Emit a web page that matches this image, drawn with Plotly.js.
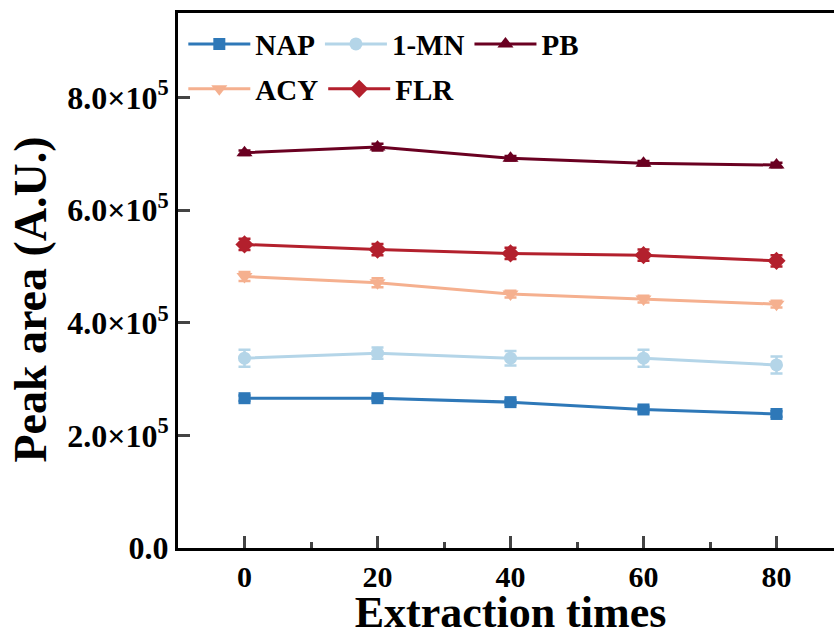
<!DOCTYPE html>
<html>
<head>
<meta charset="utf-8">
<script src="https://cdn.plot.ly/plotly-3.0.1.min.js"></script>
<style>
html,body{margin:0;padding:0;overflow:hidden;background:#fff;}
#chart{width:850px;height:637px;}
</style>
</head>
<body>
<div id="chart"></div>
<script>
const times = [0, 20, 40, 60, 80];
const seriesNames = ["NAP", "1-MN", "PB", "ACY", "FLR"];
const NAP = [2.66e5, 2.66e5, 2.59e5, 2.46e5, 2.38e5];
const NAP_err = [5e3, 4e3, 4e3, 5e3, 5e3];
const MN = [3.37e5, 3.46e5, 3.37e5, 3.37e5, 3.25e5];
const MN_err = [1.5e4, 1.0e4, 1.3e4, 1.5e4, 1.5e4];
const PB = [7.02e5, 7.12e5, 6.92e5, 6.83e5, 6.80e5];
const PB_err = [4e3, 6e3, 4e3, 4e3, 4e3];
const ACY = [4.82e5, 4.71e5, 4.51e5, 4.42e5, 4.33e5];
const ACY_err = [8e3, 8e3, 6e3, 6e3, 6e3];
const FLR = [5.39e5, 5.30e5, 5.23e5, 5.20e5, 5.10e5];
const FLR_err = [1.0e4, 1.0e4, 1.0e4, 1.0e4, 1.0e4];
const yTickVals = [0, 2e5, 4e5, 6e5, 8e5];
const yTickText = ["0.0", "2.0×10<sup>5</sup>", "4.0×10<sup>5</sup>", "6.0×10<sup>5</sup>", "8.0×10<sup>5</sup>"];
const xTickVals = [0, 20, 40, 60, 80];
const xTitle = "Extraction times";
const yTitle = "Peak area (A.U.)";

const colors = ["#2e78b8", "#b4d5e8", "#6a0021", "#f5b08f", "#b3202d"];
const symbols = ["square", "circle", "triangle-up", "triangle-down", "diamond"];
const sizes = [12, 13, 14, 14, 14];
const values = [NAP, MN, PB, ACY, FLR];
const errs = [NAP_err, MN_err, PB_err, ACY_err, FLR_err];
const legends = ["legend", "legend", "legend", "legend2", "legend2"];

const traces = values.map((v, i) => ({
  x: times, y: v, name: seriesNames[i], type: "scatter", mode: "lines+markers",
  legend: legends[i],
  line: {color: colors[i], width: 3},
  marker: {color: colors[i], symbol: symbols[i], size: sizes[i]},
  error_y: {type: "data", array: errs[i], visible: true, color: colors[i], thickness: 2.5, width: 6}
}));

const font = "'Liberation Serif', 'Times New Roman', serif";
const legendCommon = {
  orientation: "h", xref: "paper", yref: "paper", xanchor: "left", yanchor: "middle",
  font: {family: font, size: 29, color: "#000", weight: "bold"},
  bgcolor: "rgba(0,0,0,0)", borderwidth: 0, itemwidth: 62, tracegroupgap: 0
};

const layout = {
  width: 850, height: 637,
  margin: {l: 178, r: 7, t: 13, b: 89},
  paper_bgcolor: "#fff", plot_bgcolor: "#fff",
  font: {family: font, color: "#000"},
  showlegend: true,
  legend: Object.assign({}, legendCommon, {x: 0.008, y: 0.942}),
  legend2: Object.assign({}, legendCommon, {x: 0.008, y: 0.858}),
  xaxis: {
    range: [-10, 90], tickvals: xTickVals, ticks: "inside", ticklen: 12, tickwidth: 3,
    showline: true, linewidth: 3, linecolor: "#000", mirror: true, showgrid: false, zeroline: false,
    tickfont: {family: font, size: 30, weight: "bold"},
    minor: {dtick: 10, tick0: 10, ticks: "inside", ticklen: 6, tickwidth: 3, showgrid: false},
    title: {text: xTitle, font: {family: font, size: 44, weight: "bold"}, standoff: 9}
  },
  yaxis: {
    range: [0, 9.5e5], tickvals: yTickVals, ticktext: yTickText, ticks: "inside", ticklen: 12, tickwidth: 3,
    showline: true, linewidth: 3, linecolor: "#000", mirror: true, showgrid: false, zeroline: false,
    tickfont: {family: font, size: 32, weight: "bold"},
    title: {text: ""}
  },
  annotations: [{
    text: yTitle, textangle: -90, xref: "paper", yref: "paper",
    x: -0.222, y: 0.465, xanchor: "center", yanchor: "middle", showarrow: false,
    font: {family: font, size: 46, weight: "bold", color: "#000"}
  }]
};

Plotly.newPlot("chart", traces, layout, {displayModeBar: false, staticPlot: true});
</script>
</body>
</html>
